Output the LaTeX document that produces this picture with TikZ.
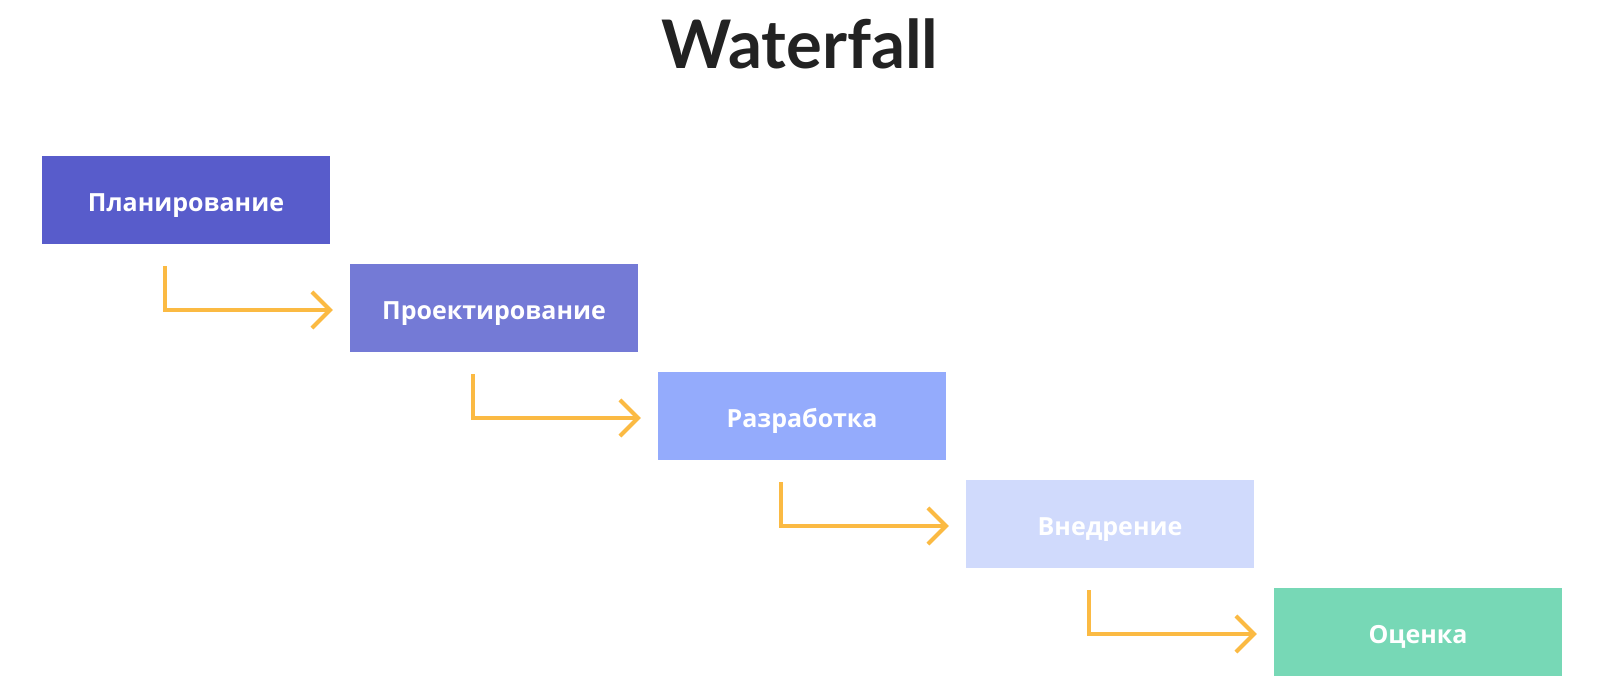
\documentclass[tikz,border=0pt]{standalone}
\usepackage{fontspec}
\setmainfont{Open Sans}
\newfontfamily\titlefont{Lato Bold}
\newfontfamily\boxfont{Open Sans Bold}
\usetikzlibrary{arrows.meta,calc}
\definecolor{cA}{HTML}{585CCB}
\definecolor{cB}{HTML}{747AD6}
\definecolor{cC}{HTML}{94ABFC}
\definecolor{cD}{HTML}{D0DAFC}
\definecolor{cE}{HTML}{77D8B6}
\definecolor{arrc}{HTML}{FBBA43}
\definecolor{titc}{HTML}{222222}
\tikzset{
  stage/.style={minimum width=288pt, minimum height=88pt, inner sep=0pt, text=white,
    text height=22pt, text depth=0pt,
    font=\boxfont\fontsize{25}{30}\selectfont},
  flow/.style={draw=arrc, line width=4pt, -{Straight Barb[length=18pt,width=36pt,line width=4pt]}}
}
\begin{document}
\begin{tikzpicture}[x=1pt,y=-1pt]
\useasboundingbox (0,0) rectangle (1599,693);
\node[text=titc, font=\titlefont\fontsize{67}{70}\selectfont, anchor=base] (title) at (800,69) {Waterfall};
\node[stage, fill=cA] (b1) at (186,200) {Планирование};
\node[stage, fill=cB] (b2) at (494,308) {Проектирование};
\node[stage, fill=cC] (b3) at (802,416) {Разработка};
\node[stage, fill=cD] (b4) at (1110,524) {Внедрение};
\node[stage, fill=cE] (b5) at (1418,632) {Оценка};
\foreach \a/\b in {b1/b2,b2/b3,b3/b4,b4/b5}{
  \draw[flow] ($(\a.south west)+(123pt,-22pt)$) |- ($(\b.west)+(-17pt,-2pt)$);
}
\end{tikzpicture}
\end{document}
